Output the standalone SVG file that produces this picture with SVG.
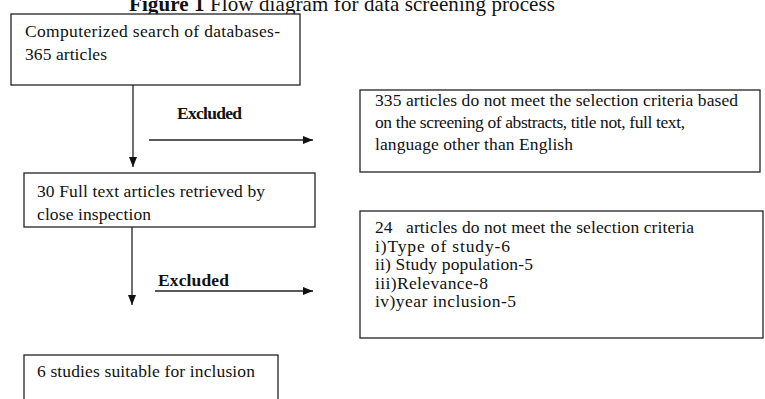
<svg xmlns="http://www.w3.org/2000/svg" width="765" height="399" viewBox="0 0 765 399">
<style>
.box{fill:#fff;stroke:#222;stroke-width:1.3}
.t{font-family:"Liberation Serif","Times New Roman",serif;font-size:17.5px;fill:#111}
.b{font-weight:bold}
.ln{stroke:#222;stroke-width:1.3;fill:none}
</style>
<defs>
<marker id="ah" viewBox="0 0 10 10" refX="10" refY="5" markerWidth="10" markerHeight="10" markerUnits="userSpaceOnUse" orient="auto">
<path d="M0,1 L10,5 L0,9 Z" fill="#111"/>
</marker>
</defs>
<rect width="765" height="399" fill="#fff"/>
<text x="129" y="11" font-family="Liberation Serif, Times New Roman, serif" font-size="21" fill="#111" textLength="426"><tspan font-weight="bold">Figure 1</tspan> Flow diagram for data screening process</text>
<g id="connectors">
<line class="ln" x1="133" y1="85" x2="133" y2="167" marker-end="url(#ah)"/>
<line class="ln" x1="149" y1="140" x2="313" y2="140" marker-end="url(#ah)"/>
<line class="ln" x1="132" y1="227" x2="132" y2="305" marker-end="url(#ah)"/>
<line class="ln" x1="155" y1="291" x2="313" y2="291" marker-end="url(#ah)"/>
<text class="t b" x="177" y="119" textLength="65">Excluded</text>
<text class="t b" x="158" y="286" textLength="71">Excluded</text>
</g>
<g id="n1">
<rect class="box" x="11" y="14" width="289" height="71"/>
<text class="t" x="25" y="37" textLength="255">Computerized search of databases-</text>
<text class="t" x="25" y="60" textLength="82">365 articles</text>
</g>
<g id="n2">
<rect class="box" x="24" y="173" width="291" height="54"/>
<text class="t" x="37" y="197" textLength="228">30 Full text articles retrieved by</text>
<text class="t" x="37" y="220" textLength="114">close inspection</text>
</g>
<g id="n3">
<rect class="box" x="360" y="90" width="400" height="82"/>
<text class="t" x="375" y="106" textLength="363">335 articles do not meet the selection criteria based</text>
<text class="t" x="375" y="128" textLength="310">on the screening of abstracts, title not, full text,</text>
<text class="t" x="375" y="150" textLength="198">language other than English</text>
</g>
<g id="n4">
<rect class="box" x="360" y="211" width="403" height="127"/>
<text class="t" x="375" y="233" xml:space="preserve" textLength="319">24   articles do not meet the selection criteria</text>
<text class="t" x="375" y="251.5" textLength="135">i)Type of study-6</text>
<text class="t" x="375" y="270" textLength="158">ii) Study population-5</text>
<text class="t" x="375" y="288.5" textLength="113">iii)Relevance-8</text>
<text class="t" x="375" y="307" textLength="141">iv)year inclusion-5</text>
</g>
<g id="n5">
<rect class="box" x="24" y="355" width="254" height="60"/>
<text class="t" x="37" y="377" textLength="218">6 studies suitable for inclusion</text>
</g>
</svg>
